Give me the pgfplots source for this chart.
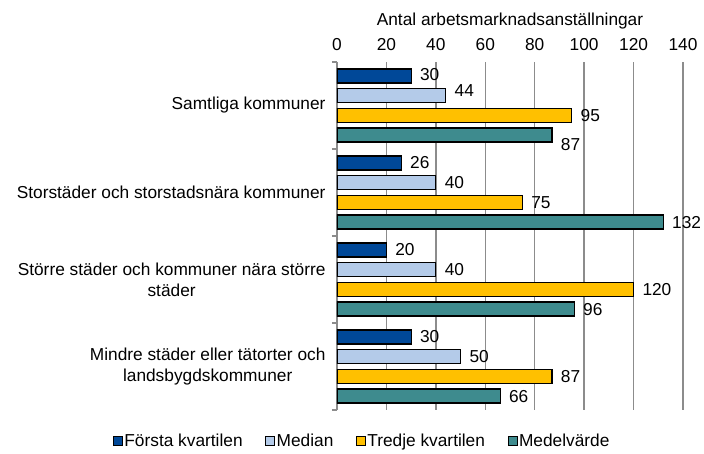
\documentclass[border=0pt]{standalone}
\usepackage{pgfplots}
\pgfplotsset{compat=1.18}
\usepackage{pgfplotstable}
\usepackage{fontspec}
\setmainfont{Liberation Sans}
\definecolor{cA}{RGB}{0,72,152}
\definecolor{cB}{RGB}{180,203,233}
\definecolor{cC}{RGB}{255,192,0}
\definecolor{cD}{RGB}{62,139,142}
\definecolor{gridgray}{RGB}{140,140,140}
\newcommand\f{\fontsize{17.3}{21}\selectfont}

\pgfplotstableread{
x y dy
30 0 1
26 1 0
20 2 0
30 3 0
}\tA
\pgfplotstableread{
x y dy
44 0 5
40 1 0
40 2 0
50 3 0
}\tB
\pgfplotstableread{
x y dy
95 0 0
75 1 0
120 2 0
87 3 0
}\tC
\pgfplotstableread{
x y dy
87 0 -9
132 1 0
96 2 0
66 3 0
}\tD

\begin{document}
\begin{tikzpicture}
\useasboundingbox (-337pt,-43pt) rectangle (367pt,410pt);
\begin{axis}[
  at={(0pt,0pt)}, anchor=south west,
  scale only axis, width=346pt, height=348pt,
  xmin=0, xmax=140, ymin=-0.5, ymax=3.5, y dir=reverse,
  xbar, bar width=0.161,
  axis x line*=top, axis y line*=left,
  x axis line style={draw=none},
  y axis line style={draw=gridgray, line width=1.2pt},
  xtick={0,20,...,140},
  xmajorgrids, grid style={draw=gridgray, line width=1.3pt},
  major tick length=0pt,
  ytick={0,1,2,3},
  yticklabels={{Samtliga kommuner},{Storstäder och storstadsnära kommuner},{Större städer och kommuner nära större\\städer},{Mindre städer eller tätorter och\\landsbygdskommuner}},
  minor ytick={-0.5,0.5,1.5,2.5,3.5},
  minor tick length=5pt, tick align=outside,
  minor y tick style={draw=gridgray, line width=1.2pt},
  yticklabel style={font=\f, align=center, xshift=-8pt},
  xticklabel style={font=\f, yshift=8pt},
  /pgf/number format/assume math mode=true,
  title={Antal arbetsmarknadsanställningar},
  title style={font=\f, at={(axis description cs:0.5,1)}, anchor=center, yshift=35pt},
  point meta=x,
  nodes near coords,
  visualization depends on={\thisrow{dy} \as \dy},
  every node near coord/.append style={font=\f, text=black, xshift=5pt, yshift=\dy pt, anchor=west},
  legend columns=-1,
  legend style={at={(axis description cs:0.072,-0.089)}, anchor=center, draw=none, font=\f,
    /tikz/every even column/.append style={column sep=21pt},
    nodes={inner xsep=1.5pt}},
  legend image code/.code={\draw[#1, line width=1pt] (0pt,-4.5pt) rectangle (9pt,4.5pt);},
]
\addplot[fill=cA, draw=black, line width=1.2pt, bar shift=-0.34] table[x=x,y=y] {\tA};
\addplot[fill=cB, draw=black, line width=1.2pt, bar shift=-0.113] table[x=x,y=y] {\tB};
\addplot[fill=cC, draw=black, line width=1.2pt, bar shift=0.113] table[x=x,y=y] {\tC};
\addplot[fill=cD, draw=black, line width=1.2pt, bar shift=0.34] table[x=x,y=y] {\tD};
\legend{Första kvartilen, Median, Tredje kvartilen, Medelvärde}
\end{axis}
\end{tikzpicture}
\end{document}
